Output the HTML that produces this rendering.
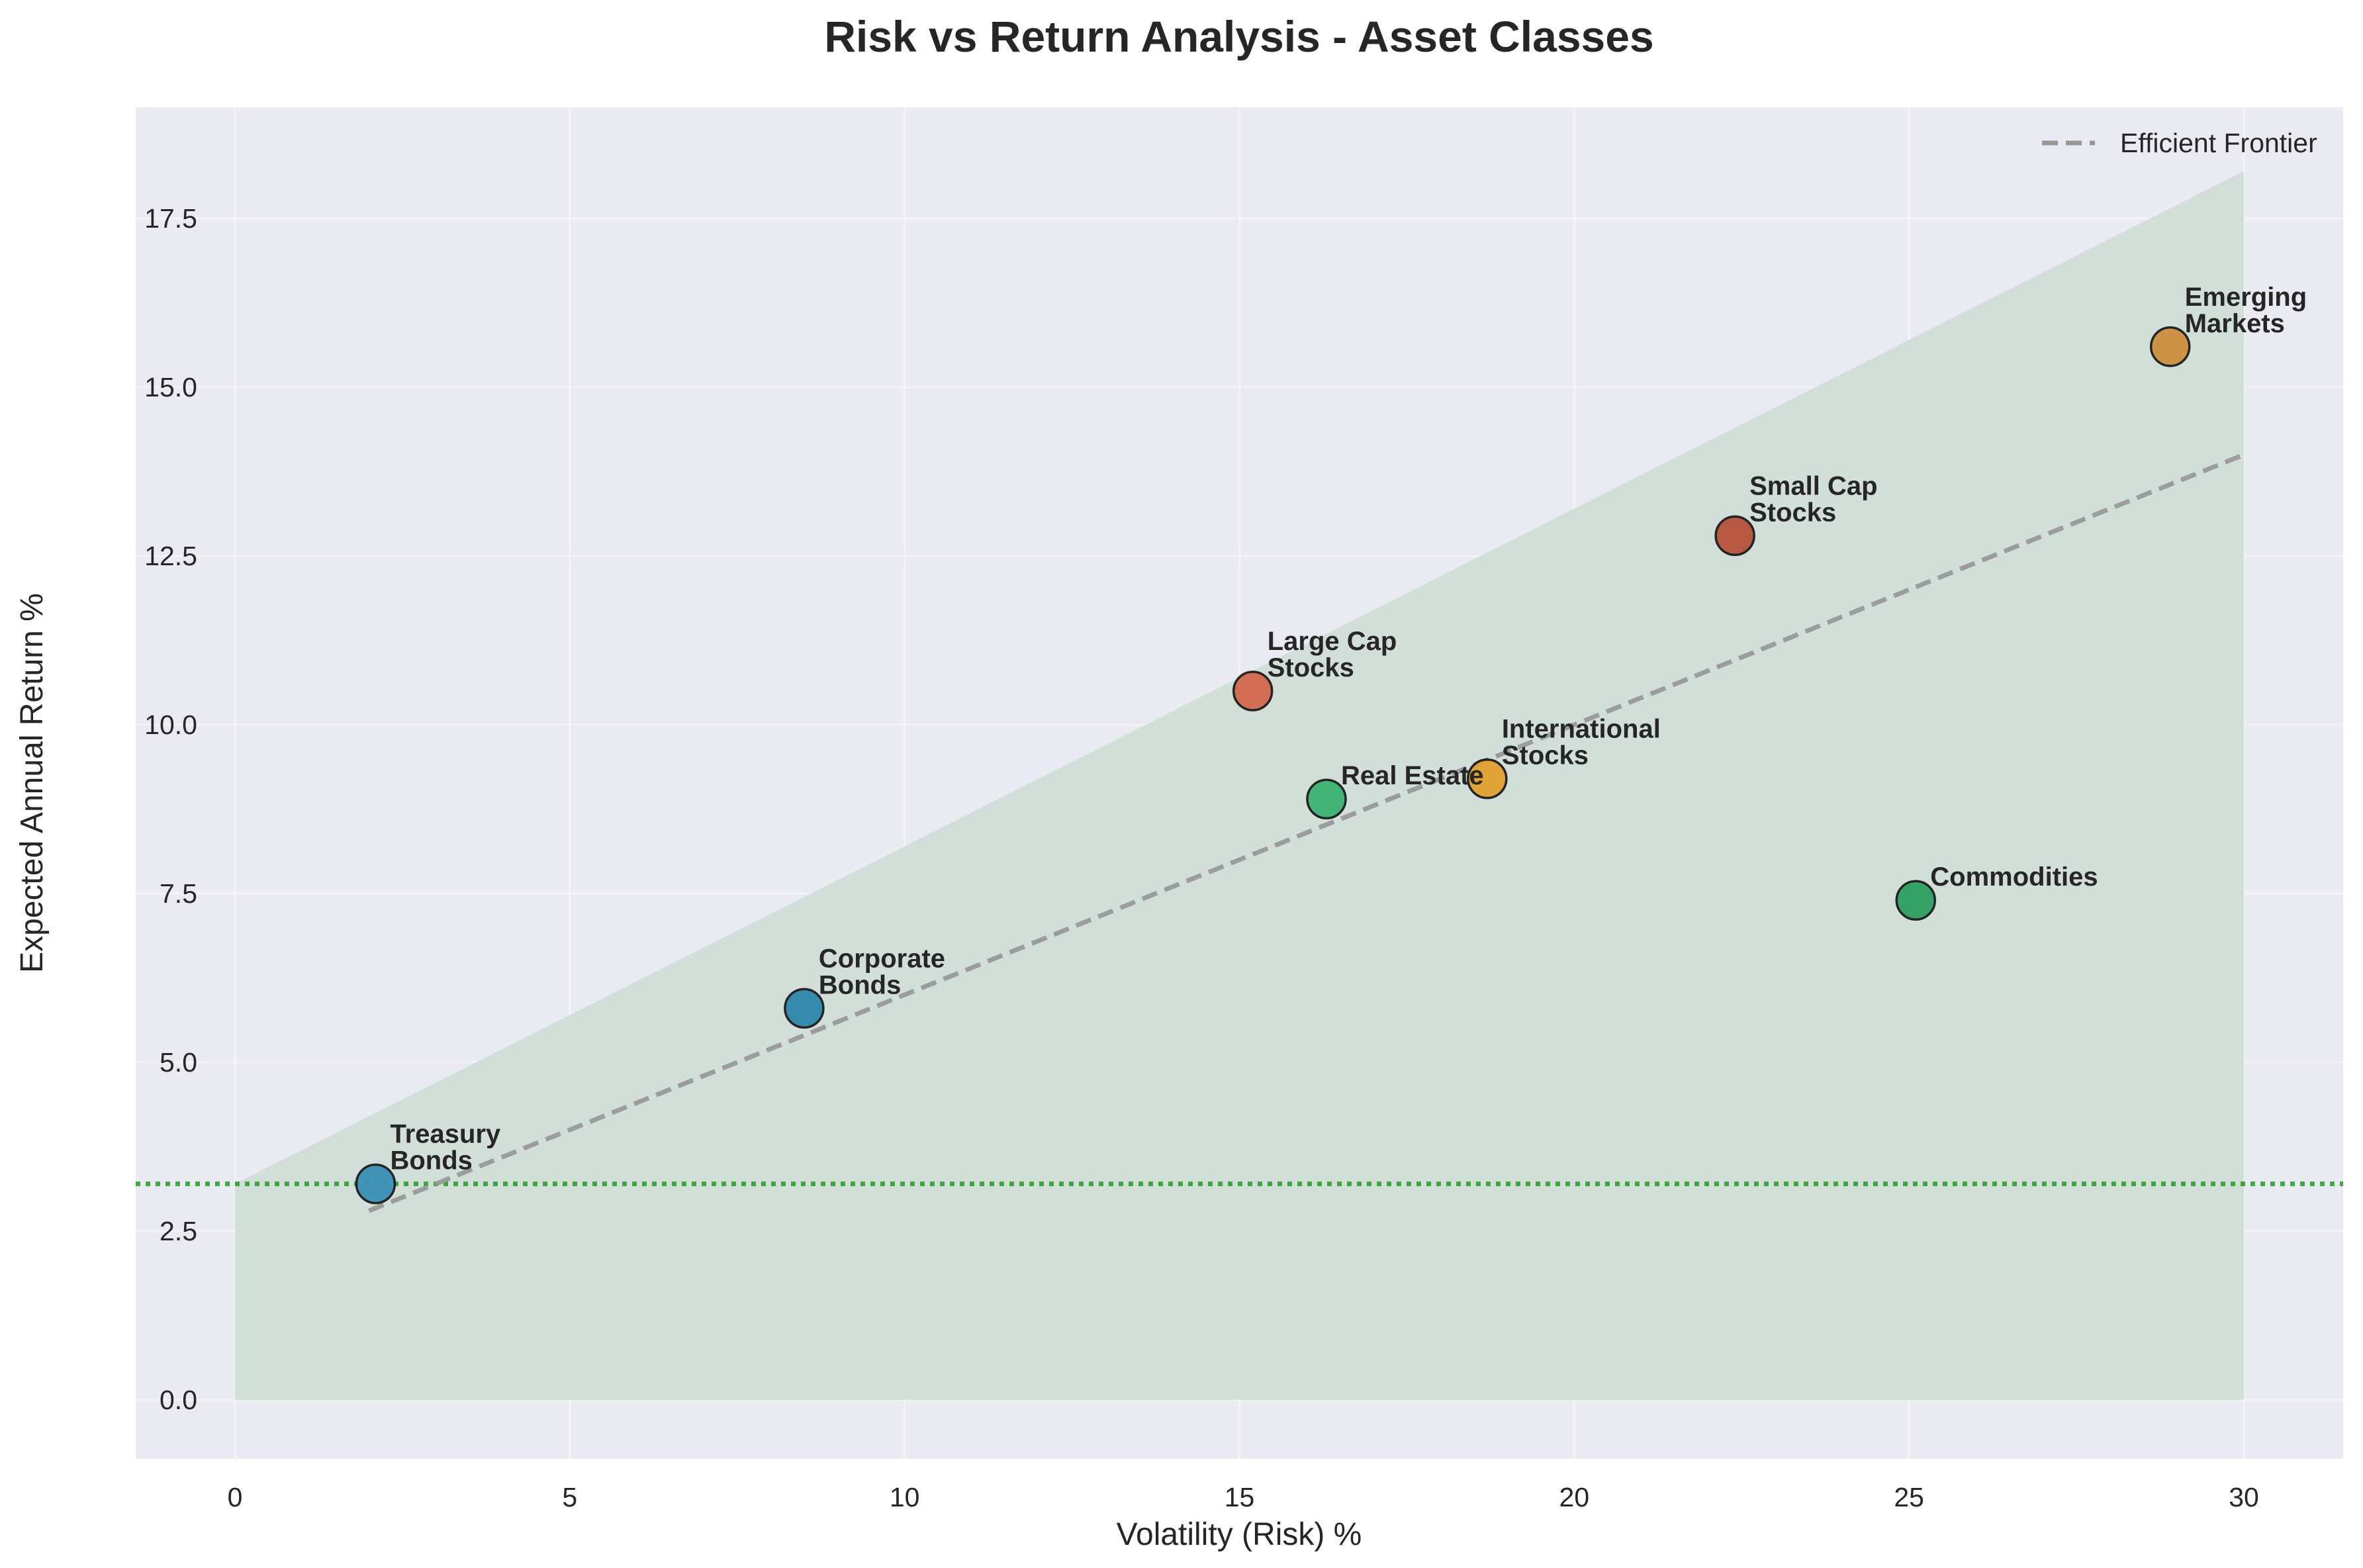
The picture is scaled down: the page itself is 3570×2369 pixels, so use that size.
<!DOCTYPE html>
<html><head><meta charset="utf-8"><style>
html,body{margin:0;padding:0;background:#fff;}
svg{display:block;font-family:"Liberation Sans",Arial,sans-serif;}
</style></head><body>
<svg id="chart" width="3570" height="2369" viewBox="0 0 3570 2369" xmlns="http://www.w3.org/2000/svg">
<text x="1872" y="78" text-anchor="middle" font-size="66" font-weight="bold" fill="#262626">Risk vs Return Analysis - Asset Classes</text>
<rect x="205" y="162" width="3335" height="2042" fill="#eaeaf2"/>
<g id="grid"></g>
<g id="fills"></g>
<g id="lines"></g>
<g id="points"></g>
<g id="labels"></g>
<g id="ticks"></g>
<text x="1872" y="2334" text-anchor="middle" font-size="48" fill="#262626">Volatility (Risk) %</text>
<text transform="translate(64,1183) rotate(-90)" text-anchor="middle" font-size="48" fill="#262626">Expected Annual Return %</text>
<g>
<line x1="3085" y1="216" x2="3165" y2="216" stroke="#999" stroke-width="7" stroke-dasharray="24,12"/>
<text x="3203" y="230" font-size="41" fill="#262626">Efficient Frontier</text>
</g>
</svg>
<script>
const names = ["Treasury\nBonds","Corporate\nBonds","Large Cap\nStocks","Real Estate","International\nStocks","Small Cap\nStocks","Emerging\nMarkets","Commodities"];
const risk = [2.1, 8.5, 15.2, 16.3, 18.7, 22.4, 28.9, 25.1];
const ret = [3.2, 5.8, 10.5, 8.9, 9.2, 12.8, 15.6, 7.4];
const colors = ["#3a8fb7","#2e86ab","#d4694f","#3cb371","#e0a030","#b5513a","#cc8f40","#2e9e5e"];
const xTicks = [0,5,10,15,20,25,30];
const yTicks = [0.0,2.5,5.0,7.5,10.0,12.5,15.0,17.5];
const frontierX = [2, 30];
const frontierY = [2.8, 14.0];
const regionX = [0, 30];
const regionY = [3.2, 18.2];
const riskFree = [3.2];

const NS="http://www.w3.org/2000/svg";
const L=205,R=3540,T=162,B=2204;
const X=v=>355+v*(3035/30);
const Y=v=>2115-v*102;
function mk(parent,tag,attrs){const e=document.createElementNS(NS,tag);for(const k in attrs)e.setAttribute(k,attrs[k]);document.getElementById(parent).appendChild(e);return e;}

xTicks.forEach(t=>{
  const g=mk('grid','line',{x1:X(t),x2:X(t),y1:T,y2:B,stroke:'#fff','stroke-width':3,opacity:0.45});
  
  
  const tx=mk('ticks','text',{x:X(t),y:2276,'text-anchor':'middle','font-size':41,fill:'#262626'});
  tx.textContent=t;
  
  
});
yTicks.forEach(t=>{
  const g=mk('grid','line',{x1:L,x2:R,y1:Y(t),y2:Y(t),stroke:'#fff','stroke-width':3,opacity:0.45});
  
  
  const tx=mk('ticks','text',{x:298,y:Y(t)+14,'text-anchor':'end','font-size':41,fill:'#262626'});
  tx.textContent=t.toFixed(1);
  
  
});

const poly=mk('fills','polygon',{points:`${X(regionX[0])},${Y(0)} ${X(regionX[0])},${Y(regionY[0])} ${X(regionX[1])},${Y(regionY[1])} ${X(regionX[1])},${Y(0)}`,fill:'#d2dfd8'});



const rf=mk('lines','line',{x1:L,x2:R,y1:Y(riskFree[0]),y2:Y(riskFree[0]),stroke:'#2ca02c','stroke-width':7,'stroke-dasharray':'7,8',opacity:0.9});


const fl=mk('lines','line',{x1:X(frontierX[0]),y1:Y(frontierY[0]),x2:X(frontierX[1]),y2:Y(frontierY[1]),stroke:'#999','stroke-width':7,'stroke-dasharray':'24,12',opacity:0.95});



risk.forEach((r,i)=>{
  const c=mk('points','circle',{cx:X(r),cy:Y(ret[i]),r:29,fill:colors[i],stroke:'#1a1a1a','stroke-width':3.5,opacity:0.95});
  
  
  const lines=names[i].split('\n');
  const t=mk('labels','text',{'font-size':40,'font-weight':'bold',fill:'#262626'});
  
  
  const y0=Y(ret[i])-22-(lines.length-1)*40;
  lines.forEach((ln,j)=>{
    const s=document.createElementNS(NS,'tspan');
    s.setAttribute('x',X(r)+22);s.setAttribute('y',y0+j*40);s.textContent=ln;t.appendChild(s);
  });
});
</script>
</body></html>
